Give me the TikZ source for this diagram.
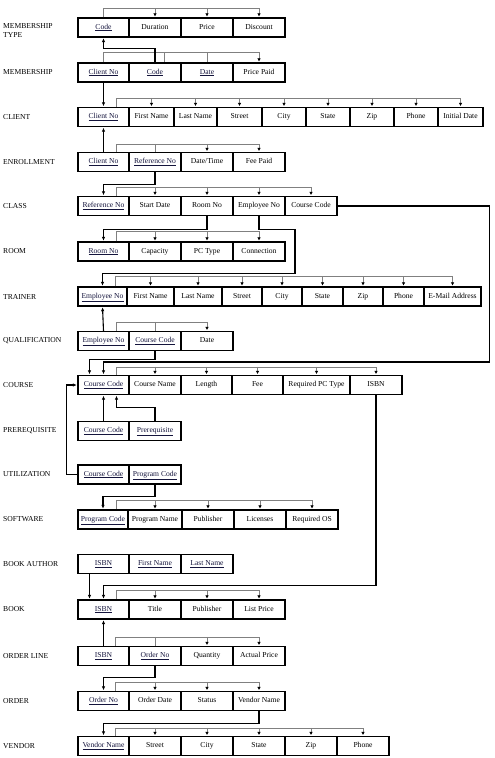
\documentclass[tikz,border=0pt]{standalone}
\usepackage{fontspec}
\setmainfont{Liberation Serif}
\usetikzlibrary{arrows.meta, positioning, calc}

\definecolor{keyblue}{RGB}{20,20,60}
\newcommand{\pkey}[1]{\textcolor{keyblue}{\underline{#1}}}

\tikzset{
  attr/.style={draw, line width=1.2pt, minimum height=19pt, inner sep=0pt,
               text height=5.6pt, text depth=2.4pt,
               font=\fontsize{7.6}{9}\selectfont},
  tname/.style={anchor=west, inner sep=0pt, align=left,
                font=\fontsize{7.6}{9}\selectfont},
  dep/.style={draw=black!50, line width=0.7pt},
  deparrow/.style={dep, -{Latex[length=3.5pt,width=3.5pt,color=black]}, shorten >=0.6pt},
  fk/.style={line width=1.1pt, -{Latex[length=4pt,width=3.5pt]}, shorten >=0.6pt},
}

\begin{document}
\begin{tikzpicture}[x=1pt, y=-1pt]
\useasboundingbox (0,0) rectangle (495,758);

% =============== table names ===============
\node[tname] (lmt) at (3,30) {MEMBERSHIP\\TYPE};
\foreach \n/\y/\t in {lm/72.5/MEMBERSHIP, lc/117/CLIENT, le/162/ENROLLMENT, lcl/206/CLASS,
    lr/251.5/ROOM, lt/296.5/TRAINER, lq/341/QUALIFICATION, lco/385/COURSE,
    lp/431/PREREQUISITE, lu/474.5/UTILIZATION, ls/519.5/SOFTWARE, lba/564/BOOK AUTHOR,
    lb/609.5/BOOK, lol/656/ORDER LINE, lo/701/ORDER, lv/746/VENDOR}
  \node[tname] (\n) at (3,\y) {\t};

% =============== attributes ===============
\foreach \i/\cx/\w/\t in {1/103.5/51/\pkey{Code}, 2/155/52/Duration, 3/207/52/Price, 4/259/52/Discount}
  \node[attr, minimum width=\w pt] (mt\i) at (\cx,27.5) {\t};
\foreach \i/\cx/\w/\t in {1/103.5/51/\pkey{Client No}, 2/155/52/\pkey{Code}, 3/207/52/\pkey{Date}, 4/259/52/Price Paid}
  \node[attr, minimum width=\w pt] (m\i) at (\cx,72.5) {\t};
\foreach \i/\cx/\w/\t in {1/103.5/51/\pkey{Client No}, 2/151.5/45/First Name, 3/195.5/43/Last Name,
    4/239.5/45/Street, 5/284/44/City, 6/328/44/State, 7/372/44/Zip, 8/416/44/Phone, 9/460.5/45/Initial Date}
  \node[attr, minimum width=\w pt] (c\i) at (\cx,117) {\t};
\foreach \i/\cx/\w/\t in {1/103.5/51/\pkey{Client No}, 2/155/52/\pkey{Reference No}, 3/207/52/{Date/Time}, 4/259/52/Fee Paid}
  \node[attr, minimum width=\w pt] (e\i) at (\cx,162) {\t};
\foreach \i/\cx/\w/\t in {1/103.5/51/\pkey{Reference No}, 2/155/52/Start Date, 3/207/52/Room No,
    4/259/52/Employee No, 5/311/52/Course Code}
  \node[attr, minimum width=\w pt] (cl\i) at (\cx,206) {\t};
\foreach \i/\cx/\w/\t in {1/103.5/51/\pkey{Room No}, 2/155/52/Capacity, 3/207/52/PC Type, 4/259/52/Connection}
  \node[attr, minimum width=\w pt] (r\i) at (\cx,251.5) {\t};
\foreach \i/\cx/\w/\t in {1/102.5/49/\pkey{Employee No}, 2/150.5/47/First Name, 3/198/48/Last Name,
    4/242/40/Street, 5/282/40/City, 6/322.5/41/State, 7/363/40/Zip, 8/403.5/41/Phone, 9/452.5/57/E-Mail Address}
  \node[attr, minimum width=\w pt] (t\i) at (\cx,296.5) {\t};
\foreach \i/\cx/\w/\t in {1/103.5/51/\pkey{Employee No}, 2/155/52/\pkey{Course Code}, 3/207/52/Date}
  \node[attr, minimum width=\w pt] (q\i) at (\cx,341) {\t};
\foreach \i/\cx/\w/\t in {1/103.5/51/\pkey{Course Code}, 2/155/52/Course Name, 3/206.5/51/Length,
    4/257.5/51/Fee, 5/316.5/67/Required PC Type, 6/376/52/ISBN}
  \node[attr, minimum width=\w pt] (co\i) at (\cx,385) {\t};
\foreach \i/\cx/\w/\t in {1/103.5/51/\pkey{Course Code}, 2/155/52/\pkey{Prerequisite}}
  \node[attr, minimum width=\w pt] (p\i) at (\cx,431) {\t};
\foreach \i/\cx/\w/\t in {1/103.5/51/\pkey{Course Code}, 2/155/52/\pkey{Program Code}}
  \node[attr, minimum width=\w pt] (u\i) at (\cx,474.5) {\t};
\foreach \i/\cx/\w/\t in {1/103/50/\pkey{Program Code}, 2/155/54/Program Name, 3/208/52/Publisher,
    4/260/52/Licenses, 5/312/52/Required OS}
  \node[attr, minimum width=\w pt] (s\i) at (\cx,519.5) {\t};
\foreach \i/\cx/\w/\t in {1/103.5/51/\pkey{ISBN}, 2/155/52/\pkey{First Name}, 3/207/52/\pkey{Last Name}}
  \node[attr, minimum width=\w pt] (ba\i) at (\cx,564) {\t};
\foreach \i/\cx/\w/\t in {1/103.5/51/\pkey{ISBN}, 2/155/52/Title, 3/207/52/Publisher, 4/259/52/List Price}
  \node[attr, minimum width=\w pt] (b\i) at (\cx,609.5) {\t};
\foreach \i/\cx/\w/\t in {1/103.5/51/\pkey{ISBN}, 2/155/52/\pkey{Order No}, 3/207/52/Quantity, 4/259/52/Actual Price}
  \node[attr, minimum width=\w pt] (ol\i) at (\cx,656) {\t};
\foreach \i/\cx/\w/\t in {1/103.5/51/\pkey{Order No}, 2/155/52/Order Date, 3/207/52/Status, 4/259/52/Vendor Name}
  \node[attr, minimum width=\w pt] (o\i) at (\cx,701) {\t};
\foreach \i/\cx/\w/\t in {1/103.5/51/\pkey{Vendor Name}, 2/155/52/Street, 3/207/52/City,
    4/259/52/State, 5/311/52/Zip, 6/363/52/Phone}
  \node[attr, minimum width=\w pt] (v\i) at (\cx,746) {\t};

% =============== functional dependencies ===============
\draw[deparrow] (mt1.north) -- ++(0,-9) -| (mt4.north);
\foreach \k in {2,3} \draw[deparrow] ([yshift=9pt]mt\k.north) -- (mt\k.north);

\draw[deparrow] (m1.north) -- ++(0,-10) -| (m4.north);
\draw[dep] ([xshift=9pt,yshift=10pt]m2.north) -- ([xshift=9pt]m2.north);
\draw[dep] ([yshift=10pt]m3.north) -- (m3.north);

\draw[deparrow] ([xshift=13pt]c1.north) -- ++(0,-9) -| (c9.north);
\foreach \k in {2,...,8} \draw[deparrow] ([yshift=9pt]c\k.north) -- (c\k.north);

\draw[deparrow] ([xshift=13pt]e1.north) -- ++(0,-8) -| (e4.north);
\draw[dep] ([yshift=8pt]e2.north) -- (e2.north);
\draw[deparrow] ([yshift=8pt]e3.north) -- (e3.north);

\draw[deparrow] ([xshift=13pt]cl1.north) -- ++(0,-9) -| (cl5.north);
\foreach \k in {2,3,4} \draw[deparrow] ([yshift=9pt]cl\k.north) -- (cl\k.north);

\draw[deparrow] ([xshift=13pt]r1.north) -- ++(0,-10) -| (r4.north);
\foreach \k in {2,3} \draw[deparrow] ([yshift=10pt]r\k.north) -- (r\k.north);

\draw[deparrow] ([xshift=13pt]t1.north) -- ++(0,-10) -| (t9.north);
\foreach \k in {2,...,8} \draw[deparrow] ([yshift=10pt]t\k.north) -- (t\k.north);

\draw[deparrow] ([xshift=13pt]q1.north) -- ++(0,-9) -| (q3.north);
\draw[dep] ([yshift=9pt]q2.north) -- (q2.north);

\draw[deparrow] ([xshift=13pt]co1.north) -- ++(0,-8) -| (co6.north);
\foreach \k in {2,...,5} \draw[deparrow] ([yshift=8pt]co\k.north) -- (co\k.north);

\draw[deparrow] ([xshift=13pt]s1.north) -- ++(0,-9) -| (s5.north);
\foreach \k in {2,3,4} \draw[deparrow] ([yshift=9pt]s\k.north) -- (s\k.north);

\draw[deparrow] ([xshift=13pt]b1.north) -- ++(0,-9) -| (b4.north);
\foreach \k in {2,3} \draw[deparrow] ([yshift=9pt]b\k.north) -- (b\k.north);

\draw[deparrow] ([xshift=12pt]ol1.north) -- ++(0,-9) -| (ol4.north);
\draw[dep] ([yshift=9pt]ol2.north) -- (ol2.north);
\draw[deparrow] ([yshift=9pt]ol3.north) -- (ol3.north);

\draw[deparrow] ([xshift=12pt]o1.north) -- ++(0,-9) -| (o4.north);
\foreach \k in {2,3} \draw[deparrow] ([yshift=9pt]o\k.north) -- (o\k.north);

\draw[deparrow] ([xshift=12pt]v1.north) -- ++(0,-8) -| (v6.north);
\foreach \k in {2,...,5} \draw[deparrow] ([yshift=8pt]v\k.north) -- (v\k.north);

% =============== foreign keys ===============
\draw[fk] (m2.north) -- ++(0,-14) -| (mt1.south);
\draw[fk] (m1.south) -- (c1.north);
\draw[fk] (e1.north) -- (c1.south);
\draw[fk] (e2.south) -- ++(0,12) -| (cl1.north);
\draw[fk] (cl3.south) -- ++(0,13) -| (r1.north);
\draw[fk] (cl4.south) -- ++(0,13) -- ++(36,0) -- ++(0,44) -| (t1.north);
\draw[fk] (q1.north) -- (t1.south);
\draw[fk] (cl5.east) -- ++(152,0) -- ++(0,156) -| (co1.north);
\draw[fk] (q2.south) -- ++(0,8) -| ([xshift=-14pt]co1.north);
\draw[fk] (p1.north) -- (co1.south);
\draw[fk] (p2.north) -- ++(0,-13) -| ([xshift=13pt]co1.south);
\draw[fk] (u1.west) -- ++(-11,0) |- (co1.west);
\draw[fk] (co6.south) -- ++(0,190) -| (b1.north);
\draw[fk] (u2.south) -- ++(0,12) -| (s1.north);
\draw[fk] ([xshift=-14pt]ba1.south) -- ([xshift=-14pt]b1.north);
\draw[fk] (ol1.north) -- (b1.south);
\draw[fk] (ol2.south) -- ++(0,11) -| (o1.north);
\draw[fk] (o4.south) -- ++(0,12) -| (v1.north);

\end{tikzpicture}
\end{document}
